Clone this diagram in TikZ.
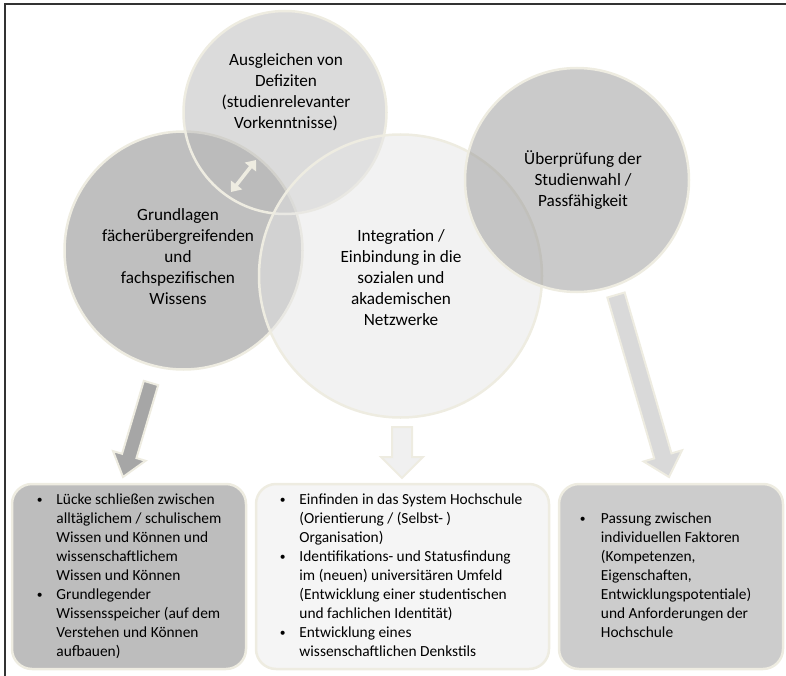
\documentclass[tikz,border=0pt]{standalone}
\usepackage{fontspec}
\setmainfont{Carlito}
\usetikzlibrary{calc,arrows.meta}

\definecolor{rim}{HTML}{EEECE1}
\definecolor{frameline}{HTML}{333333}

\tikzset{
	venn/.style={circle, draw=rim, line width=2.5pt, fill opacity=.5, draw opacity=1, inner sep=0pt},
	venntext/.style={align=center, font=\fontsize{17.2}{21}\selectfont},
	infobox/.style={rectangle, rounded corners=20pt, draw=rim, line width=2.5pt, minimum height=185pt},
	boxtext/.style={anchor=west, inner sep=0pt, font=\fontsize{15.4}{19}\selectfont},
	fat/.style={draw=rim, line width=2pt, line join=miter}
}

% block arrow: style, from, to, half shaft, half head, head length
\newcommand{\fatarrow}[6]{%
	\coordinate (fa-h) at ($(#3)!#6!(#2)$);
	\path[#1] ($(#2)!#4!90:(#3)$) -- ($(fa-h)!#4!90:(#3)$) -- ($(fa-h)!#5!90:(#3)$) -- (#3)
	-- ($(fa-h)!#5!-90:(#3)$) -- ($(fa-h)!#4!-90:(#3)$) -- ($(#2)!#4!-90:(#3)$) -- cycle;}

\newcommand{\bul}{\raisebox{.1ex}{\scalebox{.75}{\textbullet}}}

\begin{document}
\begin{tikzpicture}[x=1pt, y=-1pt]
	\useasboundingbox (0,0) rectangle (786,676);
	\draw[frameline, line width=1.5pt] (5,676) -- (5,4) -- (786,4);

	% the four circles
	\node[venn, fill=black!50, minimum size=238pt] (grund) at (183.5,250.5) {};
	\node[venn, fill=black!28, minimum size=203pt] (ausgl) at (285,112.5) {};
	\node[venn, fill=black!10, minimum size=283pt] (integ) at (400.5,276) {};
	\node[venn, fill=black!41, minimum size=224pt] (pruef) at (577,180) {};

	\node[venntext] (ausglT) at (286,92) {Ausgleichen von\\Defiziten\\(studienrelevanter\\Vorkenntnisse)};
	\node[venntext] (grundT) at (178,257) {Grundlagen\\fächerübergreifenden\\und\\fachspezifischen\\Wissens};
	\node[venntext] (integT) at (401,278) {Integration /\\Einbindung in die\\sozialen und\\akademischen\\Netzwerke};
	\node[venntext] (pruefT) at (583,180) {Überprüfung der\\Studienwahl /\\Passfähigkeit};

	\coordinate (dblA) at (231,192);
	\coordinate (dblB) at (256,160);
	\draw[rim, line width=3.5pt, {Triangle[width=14pt,length=9pt]}-{Triangle[width=14pt,length=9pt]}] (dblA) -- (dblB);

	% boxes
	\node[infobox, fill=black!26, minimum width=234pt] (lbox) at (129,576.5) {};
	\node[infobox, fill=black!4, minimum width=293pt] (mbox) at (402.5,576.5) {};
	\node[infobox, fill=black!20, minimum width=224pt] (rbox) at (671,576.5) {};

	\node[boxtext] (lboxT) at ($(lbox.west)+(26,0)$) {\begin{tabular}{@{}p{19.5pt}@{}l@{}}
		\bul & Lücke schließen zwischen\\
		& alltäglichem / schulischem\\
		& Wissen und Können und\\
		& wissenschaftlichem\\
		& Wissen und Können\\
		\bul & Grundlegender\\
		& Wissensspeicher (auf dem\\
		& Verstehen und Können\\
		& aufbauen)
	\end{tabular}};
	\node[boxtext] (mboxT) at ($(mbox.west)+(25,0)$) {\begin{tabular}{@{}p{19.5pt}@{}l@{}}
		\bul & Einfinden in das System Hochschule\\
		& (Orientierung / (Selbst- )\\
		& Organisation)\\
		\bul & Identifikations- und Statusfindung\\
		& im (neuen) universitären Umfeld\\
		& (Entwicklung einer studentischen\\
		& und fachlichen Identität)\\
		\bul & Entwicklung eines\\
		& wissenschaftlichen Denkstils
	\end{tabular}};
	\node[boxtext] (rboxT) at ($(rbox.west)+(22,0)$) {\begin{tabular}{@{}p{21pt}@{}l@{}}
		\bul & Passung zwischen\\
		& individuellen Faktoren\\
		& (Kompetenzen,\\
		& Eigenschaften,\\
		& Entwicklungspotentiale)\\
		& und Anforderungen der\\
		& Hochschule
	\end{tabular}};

	% block arrows
	\coordinate (lA) at (151,383);
	\coordinate (lB) at (123,477);
	\coordinate (mA) at (402,427);
	\coordinate (mB) at (402,478);
	\coordinate (rA) at (616,295);
	\coordinate (rB) at (669,477);
	\fatarrow{fat, fill=black!35}{lA}{lB}{7.5pt}{17pt}{22pt}
	\fatarrow{fat, fill=black!6}{mA}{mB}{10pt}{21pt}{21pt}
	\fatarrow{fat, fill=black!15}{rA}{rB}{9pt}{20pt}{22pt}
\end{tikzpicture}
\end{document}
